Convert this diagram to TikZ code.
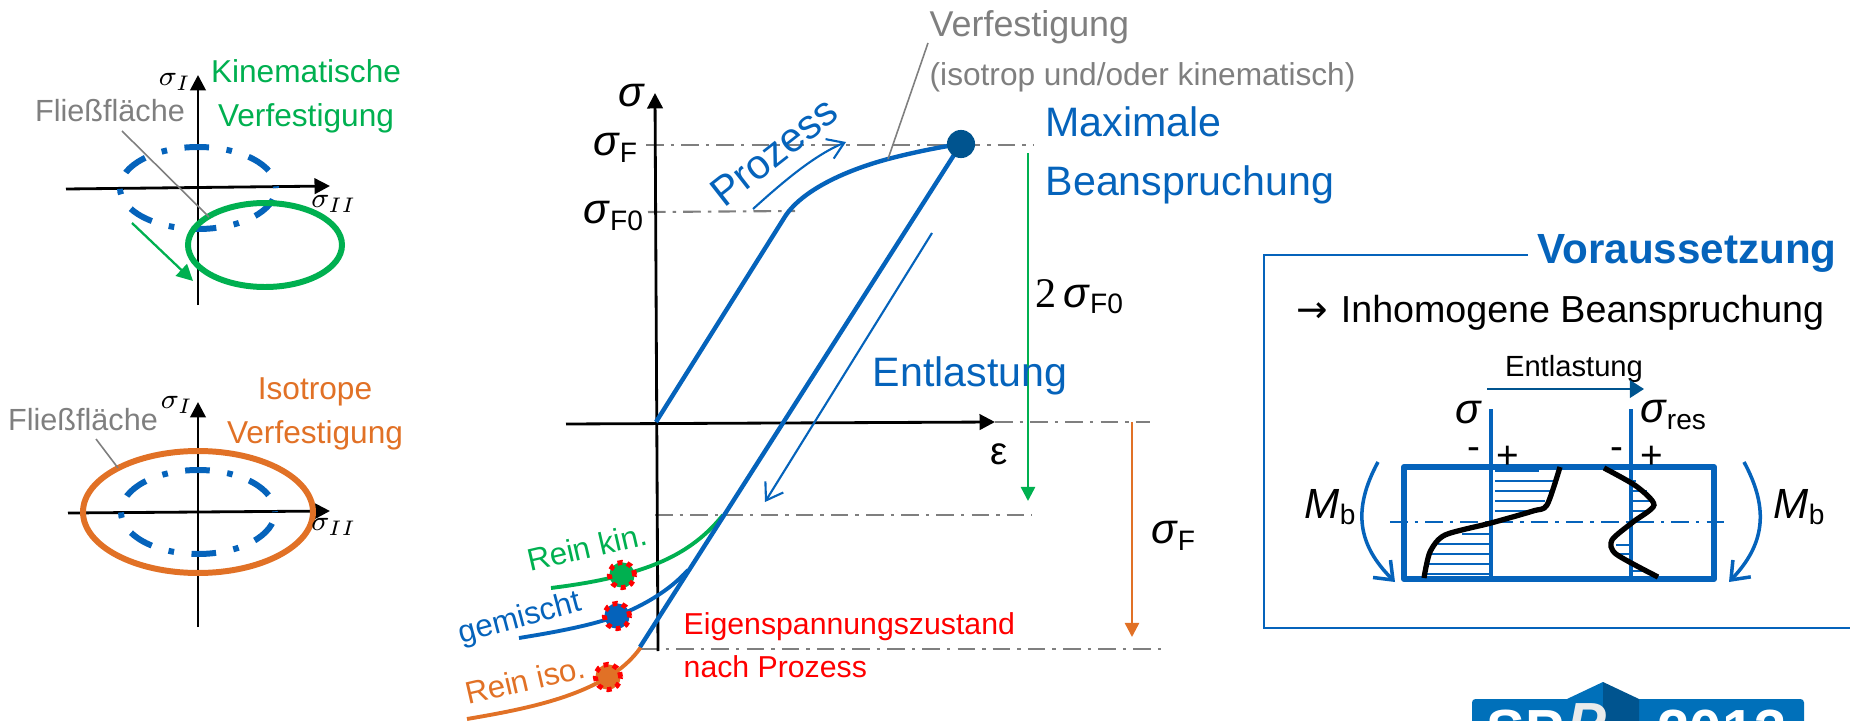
\documentclass[tikz,border=0pt]{standalone}
\usepackage{fontspec}
\setmainfont{Liberation Sans}
\newfontfamily\arrowfont{DejaVu Sans}
\newfontfamily\digitfont{Liberation Serif}
\usetikzlibrary{arrows.meta}
\definecolor{spblue}{RGB}{5,99,187}
\definecolor{spdark}{RGB}{0,84,143}
\definecolor{splogo}{RGB}{0,112,186}
\definecolor{spgreen}{RGB}{0,176,80}
\definecolor{sporange}{RGB}{225,113,38}
\definecolor{spgray}{RGB}{127,127,127}
\newcommand{\sgm}{\textit{σ}}
\tikzset{
  axisline/.style={black, line width=0.8pt, -{Triangle[length=4.4pt,width=4.4pt]}},
  helpline/.style={spgray, line width=0.6pt, dash pattern=on 5pt off 2pt on 1pt off 2pt},
  leader/.style={spgray, line width=0.45pt},
  yieldold/.style={spblue, line width=1.7pt, line cap=butt, dash pattern=on 7pt off 5pt on 1.6pt off 5pt, dash phase=15.2pt},
  resdot/.style={circle, minimum size=7.2pt, inner sep=0pt, draw=red, line width=1.4pt, dash pattern=on 1.4pt off 1.35pt},
  bluearrow/.style={spblue, line width=0.6pt, -{Straight Barb[length=4.5pt,width=6pt]}},
  label/.style={inner sep=0pt, align=center},
  biglabel/.style={label, font=\fontsize{12pt}{15pt}\selectfont},
}
\begin{document}
\begin{tikzpicture}[x=0.01cm,y=-0.01cm]
  \useasboundingbox (0,0) rectangle (1850,721);

  % upper yield surface sketch: the loci are simply shifted
  \draw[axisline] (198,305) -- (198,75);
  \draw[axisline] (66,189) -- (330,186);
  \draw[yieldold] (198,188) ellipse (78 and 41);
  \draw[spgreen, line width=1.7pt] (265,245) ellipse (77 and 42);
  \draw[spgreen, line width=0.65pt, -{Triangle[length=4.6pt,width=4.6pt]}] (132,223) -- (193,281);
  \draw[leader] (122,131) -- (209,217);
  \node[label, font=\fontsize{8.7pt}{10pt}\selectfont, spgray] (flowa) at (110,111) {Fließfläche};
  \node[label, font=\fontsize{9pt}{12.6pt}\selectfont, spgreen] (kina) at (306,96) {Kinematische\\Verfestigung};
  \node[label, font=\fontsize{8pt}{9pt}\selectfont] (sia) at (175,82) {$\sigma_{I}$};
  \node[label, font=\fontsize{8pt}{9pt}\selectfont] (siia) at (334,204) {$\sigma_{II}$};

  % lower sketch
  \draw[axisline] (198,627) -- (198,402);
  \draw[axisline] (68,513) -- (330,511);
  \draw[yieldold] (198,512) ellipse (77 and 42);
  \draw[sporange, line width=1.7pt] (198,512) ellipse (115 and 61);
  \draw[leader] (96,439) -- (118,468);
  \node[label, font=\fontsize{8.7pt}{10pt}\selectfont, spgray] (flowb) at (83,420) {Fließfläche};
  \node[label, font=\fontsize{9pt}{12.6pt}\selectfont, sporange] (isob) at (315,414) {Isotrope\\Verfestigung};
  \node[label, font=\fontsize{8pt}{9pt}\selectfont] (sib) at (177,405) {$\sigma_{I}$};
  \node[label, font=\fontsize{8pt}{9pt}\selectfont] (siib) at (334,527) {$\sigma_{II}$};

  % stress-strain axes with the level lines
  \draw[helpline] (646,145) -- (1034,145);
  \draw[helpline] (648,212) -- (795,211);
  \draw[helpline] (995,422) -- (1150,422);
  \draw[helpline] (655,515) -- (1032,515);
  \draw[helpline] (641,649) -- (1162,649);
  \draw[axisline] (658,651) -- (655,93);
  \draw[axisline] (566,424) -- (995,422);

  \draw[spgreen, line width=1.1pt] (723,515)
    .. controls (695,550) and (660,565) .. (622,575)
    .. controls (600,581) and (575,585) .. (551,588);
  \draw[spblue, line width=1.1pt] (688,570)
    .. controls (670,590) and (645,605) .. (617,616)
    .. controls (590,626) and (550,633) .. (519,638);
  \draw[sporange, line width=1.1pt] (641,647)
    .. controls (632,660) and (620,670) .. (608,677)
    .. controls (570,700) and (520,710) .. (467,719);
  \draw[spblue, line width=1.25pt] (656,422) -- (786,215)
    .. controls (802,192) and (840,172) .. (888,159)
    .. controls (915,152) and (940,147) .. (961,144);
  \draw[spblue, line width=1.25pt] (961,144) -- (640,647);

  \node[resdot, fill=spgreen] (dotkin) at (622,575) {};
  \node[resdot, fill=spblue] (dotmix) at (617,616) {};
  \node[resdot, fill=sporange] (dotiso) at (608,677) {};
  \node[circle, fill=spdark, minimum size=8pt, inner sep=0pt] (dotmax) at (961,144) {};

  \draw[bluearrow] (753,209) .. controls (785,180) and (815,155) .. (846,142);
  \draw[bluearrow] (932,233) -- (765,502);
  \draw[spgreen, line width=0.7pt, -{Triangle[length=4pt,width=4pt]}] (1028,153) -- (1028,501);
  \draw[sporange, line width=0.7pt, -{Triangle[length=4pt,width=4pt]}] (1132,422) -- (1132,637);
  \draw[leader] (928,43) -- (888,159);

  \node[label, font=\fontsize{10.2pt}{12pt}\selectfont, spgray, anchor=west] (verf) at (929,27) {Verfestigung};
  \node[label, font=\fontsize{9pt}{11pt}\selectfont, spgray, anchor=west] (verfb) at (929,77) {(isotrop und/oder kinematisch)};
  \node[label, font=\fontsize{11.7pt}{16.8pt}\selectfont, spblue, align=left, anchor=west] (maxb) at (1045,155) {Maximale\\Beanspruchung};
  \node[label, font=\fontsize{11.7pt}{14pt}\selectfont, spblue] (entl) at (970,376) {Entlastung};
  \node[label, font=\fontsize{11.7pt}{14pt}\selectfont, spblue, rotate=38] (proz) at (774,152) {Prozess};
  \node[biglabel] (sig) at (632,96) {\sgm};
  \node[biglabel] (sigf) at (616,148) {\sgm\textsubscript{F}};
  \node[biglabel] (sigfo) at (614,216) {\sgm\textsubscript{F0}};
  \node[biglabel] (twosig) at (1080,297) {{\digitfont 2}\,\sgm\textsubscript{F0}};
  \node[biglabel] (sigr) at (1174,536) {\sgm\textsubscript{F}};
  \node[label, font=\fontsize{11pt}{14pt}\selectfont] (eps) at (999,454) {ε};
  \node[label, font=\fontsize{8.9pt}{10pt}\selectfont, spgreen, rotate=13] (lkin) at (587,547) {Rein kin.};
  \node[label, font=\fontsize{8.9pt}{10pt}\selectfont, spblue, rotate=15] (lmix) at (520,619) {gemischt};
  \node[label, font=\fontsize{8.9pt}{10pt}\selectfont, sporange, rotate=13] (liso) at (525,680) {Rein iso.};
  \node[label, font=\fontsize{8.6pt}{12.4pt}\selectfont, red, align=left, anchor=west] (eigen) at (683,645) {Eigenspannungszustand\\nach Prozess};

  % frame, open on the right
  \draw[spblue, line width=0.5pt] (1528,255) -- (1264,255) -- (1264,628) -- (1850,628);
  \node[label, font=\fontsize{12pt}{14pt}\selectfont\bfseries, spblue] (vor) at (1687,253) {Voraussetzung};
  \node[label, font=\fontsize{10.7pt}{13pt}\selectfont, anchor=west] (inh) at (1296,313) {{\arrowfont →}\hspace{3.6pt}Inhomogene Beanspruchung};
  \node[label, font=\fontsize{8.3pt}{10pt}\selectfont] (entlb) at (1574,369) {Entlastung};
  \draw[spdark, line width=0.6pt, -{Triangle[length=4pt,width=5pt]}] (1487,389) -- (1644,389);

  \draw[spblue, line width=1.7pt, line join=round] (1404,467) rectangle (1714,579);
  \draw[spblue, line width=0.45pt, dash pattern=on 5pt off 2pt on 1pt off 2pt] (1390,522) -- (1728,522);
  \draw[spblue, line width=0.9pt] (1491,409) -- (1491,580);
  \draw[spblue, line width=0.9pt] (1631,409) -- (1631,580);
  \foreach \ya/\xa in {471/1539,481/1554,491/1552,501/1545,511/1533} {
    \draw[spblue, line width=0.35pt] (1495,\ya) -- (\xa,\ya);
  }
  \foreach \ya/\xa in {534/1462,544/1438,554/1432,564/1428,574/1426} {
    \draw[spblue, line width=0.35pt] (1491,\ya) -- (\xa,\ya);
  }
  \foreach \ya/\xa in {476/1631,481/1636,491/1647,501/1652,511/1648,530/1631,545/1616,554/1618,564/1631,571/1648} {
    \draw[spblue, line width=0.35pt] (1631,\ya) -- (\xa,\ya);
  }
  \draw[black, line width=1.5pt] plot[smooth, tension=0.45] coordinates
    {(1560,467) (1547,505) (1533,511) (1491,523) (1445,535) (1430,552) (1424,578)};
  \draw[black, line width=1.5pt] plot[smooth, tension=0.45] coordinates
    {(1604,468) (1636,486) (1654,505) (1633,522) (1612,540) (1616,554) (1658,577)};
  \draw[spblue, line width=1pt, -{Straight Barb[length=4.5pt,width=7pt]}] (1378,462)
    .. controls (1352,510) and (1358,545) .. (1395,582);
  \draw[spblue, line width=1pt, -{Straight Barb[length=4.5pt,width=7pt]}] (1744,462)
    .. controls (1770,510) and (1764,545) .. (1729,582);

  \node[biglabel] (sigb) at (1469,413) {\sgm};
  \node[biglabel] (sigres) at (1674,415) {\sgm\textsubscript{res}};
  \node[label, font=\fontsize{11pt}{13pt}\selectfont] (mina) at (1474,454) {-};
  \node[label, font=\fontsize{11pt}{13pt}\selectfont] (plusa) at (1508,457) {+};
  \node[label, font=\fontsize{11pt}{13pt}\selectfont] (minb) at (1617,454) {-};
  \node[label, font=\fontsize{11pt}{13pt}\selectfont] (plusb) at (1652,457) {+};
  \node[biglabel] (mbl) at (1331,507) {\textit{M}\textsubscript{b}};
  \node[biglabel] (mbr) at (1800,507) {\textit{M}\textsubscript{b}};

  % logo is cut by the lower edge of the page
  \begin{scope}
    \clip (0,0) rectangle (1850,721);
    \fill[rounded corners=1pt, splogo] (1472,699) rectangle (1804,740);
    \fill[splogo] (1567,699) -- (1603,682) -- (1603,740) -- (1567,740) -- cycle;
    \fill[spdark] (1603,682) -- (1639,699) -- (1639,740) -- (1603,740) -- cycle;
    \node[font=\fontsize{16.5pt}{18pt}\selectfont\bfseries, white, anchor=base west, inner sep=0pt] (logosp) at (1486,750) {SP};
    \node[font=\fontsize{16.5pt}{18pt}\selectfont\bfseries\itshape, black!8, anchor=base west, inner sep=0pt] (logop) at (1567,743) {P};
    \node[font=\fontsize{16.5pt}{18pt}\selectfont\bfseries, white, anchor=base west, inner sep=0pt] (logoyr) at (1657,750) {2013};
  \end{scope}
\end{tikzpicture}
\end{document}
